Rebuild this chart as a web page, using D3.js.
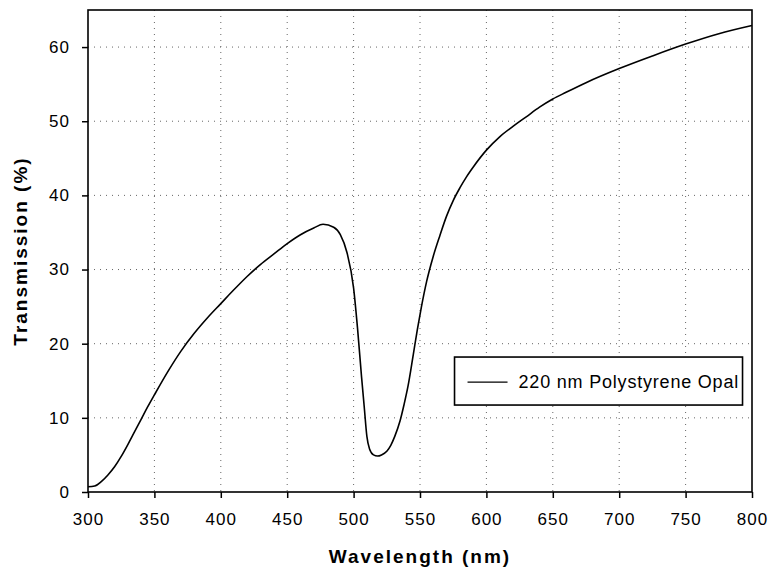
<!DOCTYPE html>
<html>
<head>
<meta charset="utf-8">
<script src="https://cdn.jsdelivr.net/npm/d3@7"></script>
<style>
  body { margin: 0; background: #fff; }
  text { font-family: "Liberation Sans", Arial, sans-serif; fill: #000; }
</style>
</head>
<body>
<div id="chart"></div>
<script>
// spectrum
const wavelength = [300, 305, 310, 315, 320, 325, 330, 335, 340, 345, 350, 360, 370, 380, 390,
  400, 410, 420, 430, 440, 450, 460, 470, 477, 485, 490, 495, 500, 503, 506, 508, 510, 512,
  515, 518, 521, 525, 528, 531, 535, 538, 541, 545, 548, 551, 555, 560, 565, 570, 575, 580,
  585, 590, 600, 610, 620, 630, 640, 650, 660, 675, 700, 725, 750, 775, 800];
const transmission = [0.7, 0.8, 1.4, 2.3, 3.4, 4.8, 6.4, 8.1, 9.8, 11.5, 13.1, 16.2, 19.0, 21.4, 23.5,
  25.4, 27.3, 29.1, 30.7, 32.1, 33.5, 34.7, 35.6, 36.1, 35.7, 34.7, 32.3, 27.5, 22.0, 15.5, 11.5, 7.5, 5.8,
  5.0, 4.85, 5.0, 5.5, 6.3, 7.5, 9.6, 11.8, 14.3, 18.6, 21.9, 24.9, 28.4, 31.8, 34.6, 37.2, 39.3, 41.0,
  42.5, 43.8, 46.1, 47.9, 49.3, 50.6, 51.9, 53.0, 53.9, 55.2, 57.1, 58.8, 60.4, 61.8, 62.9];
const xTicks = [300, 350, 400, 450, 500, 550, 600, 650, 700, 750, 800];
const yTicks = [0, 10, 20, 30, 40, 50, 60];
const seriesName = "220 nm Polystyrene Opal";

const width = 769, height = 572;
const margin = { top: 10, right: 17, bottom: 80, left: 88 };
const innerW = width - margin.left - margin.right;
const innerH = height - margin.top - margin.bottom;

const svg = d3.select("#chart").append("svg")
  .attr("width", width)
  .attr("height", height);

const g = svg.append("g")
  .attr("transform", `translate(${margin.left},${margin.top})`);

const x = d3.scaleLinear().domain([300, 800]).range([0, innerW]);
const y = d3.scaleLinear().domain([0, 65]).range([innerH, 0]);

// dotted grid
g.append("g").selectAll("line")
  .data(xTicks.slice(1, -1))
  .join("line")
  .attr("x1", d => x(d)).attr("x2", d => x(d))
  .attr("y1", 0).attr("y2", innerH)
  .attr("stroke", "#666").attr("stroke-width", 1)
  .attr("stroke-dasharray", "1,5");

g.append("g").selectAll("line")
  .data(yTicks.slice(1))
  .join("line")
  .attr("x1", 0).attr("x2", innerW)
  .attr("y1", d => y(d)).attr("y2", d => y(d))
  .attr("stroke", "#666").attr("stroke-width", 1)
  .attr("stroke-dasharray", "1,5");

// axes
const xAxis = g.append("g")
  .attr("transform", `translate(0,${innerH})`)
  .call(d3.axisBottom(x).tickValues(xTicks).tickSize(6).tickPadding(15).tickSizeOuter(0));
const yAxis = g.append("g")
  .call(d3.axisLeft(y).tickValues(yTicks).tickSize(6).tickPadding(12).tickSizeOuter(0));

[xAxis, yAxis].forEach(a => {
  a.select(".domain").remove();
  a.selectAll(".tick line").attr("stroke", "#000").attr("stroke-width", 1.5);
  a.selectAll(".tick text")
    .style("font-size", "17px")
    .style("letter-spacing", "1px")
    .attr("fill", "#000");
});

// frame
g.append("rect")
  .attr("x", 0).attr("y", 0)
  .attr("width", innerW).attr("height", innerH)
  .attr("fill", "none")
  .attr("stroke", "#000")
  .attr("stroke-width", 1.6);

// curve
const points = wavelength.map((w, i) => ({ w: w, t: transmission[i] }));
const line = d3.line()
  .x(d => x(d.w))
  .y(d => y(d.t))
  .curve(d3.curveMonotoneX);

g.append("path")
  .datum(points)
  .attr("fill", "none")
  .attr("stroke", "#000")
  .attr("stroke-width", 1.6)
  .attr("d", line);

// legend
const legend = g.append("g")
  .attr("transform", `translate(${x(576)},${y(18.2)})`);
legend.append("rect")
  .attr("width", 288).attr("height", 48)
  .attr("fill", "#fff")
  .attr("stroke", "#000")
  .attr("stroke-width", 1.6);
legend.append("line")
  .attr("x1", 13).attr("x2", 53)
  .attr("y1", 25).attr("y2", 25)
  .attr("stroke", "#000").attr("stroke-width", 1.2);
legend.append("text")
  .attr("x", 64).attr("y", 31)
  .style("font-size", "18px")
  .style("letter-spacing", "0.8px")
  .text(seriesName);

// axis titles
svg.append("text")
  .attr("x", margin.left + innerW / 2)
  .attr("y", 563)
  .attr("text-anchor", "middle")
  .style("font-size", "19px")
  .style("font-weight", "bold")
  .style("letter-spacing", "2px")
  .text("Wavelength (nm)");

svg.append("text")
  .attr("transform", `translate(27,${margin.top + innerH / 2}) rotate(-90)`)
  .attr("text-anchor", "middle")
  .style("font-size", "19px")
  .style("font-weight", "bold")
  .style("letter-spacing", "2px")
  .text("Transmission (%)");
</script>
</body>
</html>
